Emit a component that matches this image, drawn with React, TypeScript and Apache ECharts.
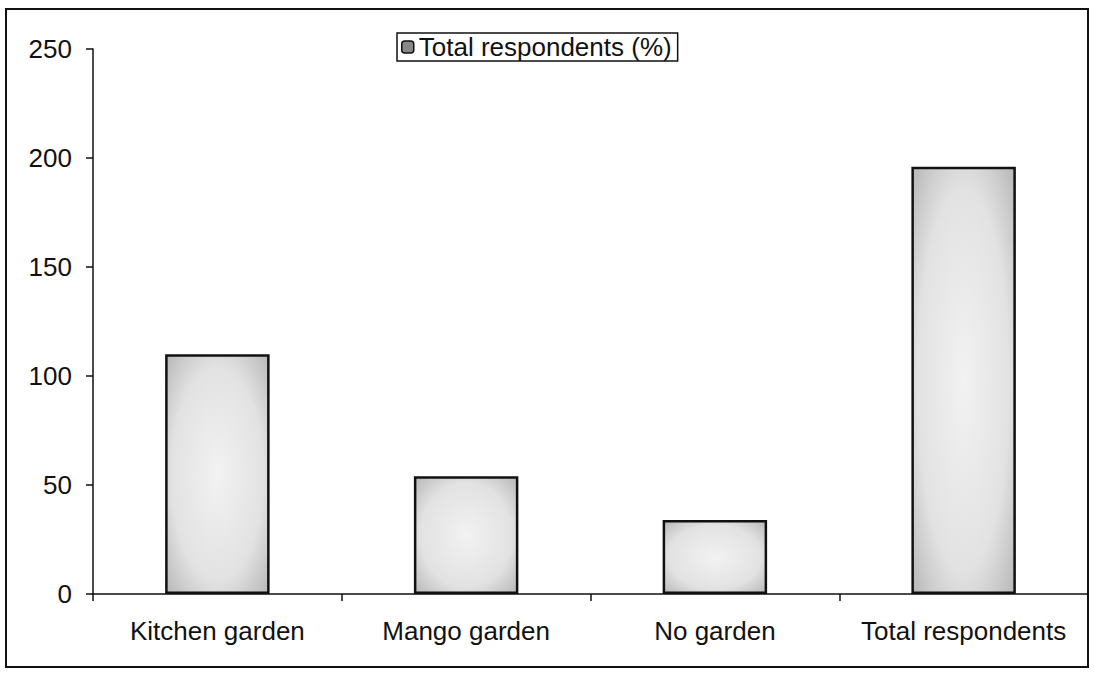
import React, { useEffect, useRef } from "react";
import * as echarts from "echarts";

const categories = ["Kitchen garden", "Mango garden", "No garden", "Total respondents"];
const values = [110, 54, 34, 196];
const seriesName = "Total respondents (%)";
const yTicks = { min: 0, max: 250, interval: 50 };

export default function App() {
  const ref = useRef<HTMLDivElement>(null);
  useEffect(() => {
    document.body.style.margin = "0";
    const chart = echarts.init(ref.current!, null, { renderer: "svg" });
    const font = "Liberation Sans, Arial, sans-serif";
    chart.setOption({
      animation: false,
      backgroundColor: "#ffffff",
      textStyle: { fontFamily: font },
      graphic: [
        {
          type: "rect",
          shape: { x: 6, y: 9, width: 1082, height: 658 },
          style: { fill: "none", stroke: "#111", lineWidth: 2 },
          silent: true,
        },
      ],
      legend: {
        data: [seriesName],
        left: 397,
        top: 33,
        padding: [1, 6, 1, 4],
        itemWidth: 12,
        itemHeight: 12,
        itemGap: 4,
        borderColor: "#111",
        borderWidth: 1.5,
        borderRadius: 0,
        textStyle: { fontSize: 26, color: "#111", fontFamily: font },
        itemStyle: { color: "#888", borderColor: "#111", borderWidth: 1.5 },
      },
      grid: { left: 93, right: 6, top: 49, bottom: 80, containLabel: false },
      xAxis: {
        type: "category",
        data: categories,
        boundaryGap: true,
        axisLine: { show: true, lineStyle: { color: "#111", width: 1.5 } },
        axisTick: { show: true, length: 7, interval: 0, alignWithLabel: false, lineStyle: { color: "#111", width: 1.5 } },
        axisLabel: { fontSize: 26, color: "#111", margin: 24, interval: 0, hideOverlap: false, fontFamily: font },
        splitLine: { show: false },
      },
      yAxis: {
        type: "value",
        min: yTicks.min,
        max: yTicks.max,
        interval: yTicks.interval,
        axisLine: { show: true, lineStyle: { color: "#111", width: 1.5 } },
        axisTick: { show: true, length: 7, lineStyle: { color: "#111", width: 1.5 } },
        axisLabel: { fontSize: 26, color: "#111", margin: 21, fontFamily: font },
        splitLine: { show: false },
      },
      series: [
        {
          name: seriesName,
          type: "bar",
          data: values,
          barWidth: "42%",
          itemStyle: {
            color: {
              type: "radial",
              x: 0.5,
              y: 0.5,
              r: 0.75,
              colorStops: [
                { offset: 0, color: "#f2f2f2" },
                { offset: 0.6, color: "#e2e2e2" },
                { offset: 1, color: "#b0b0b0" },
              ],
            },
            borderColor: "#111",
            borderWidth: 2.5,
          },
        },
      ],
    });
    return () => chart.dispose();
  }, []);
  return <div ref={ref} style={{ width: 1094, height: 674 }} />;
}
